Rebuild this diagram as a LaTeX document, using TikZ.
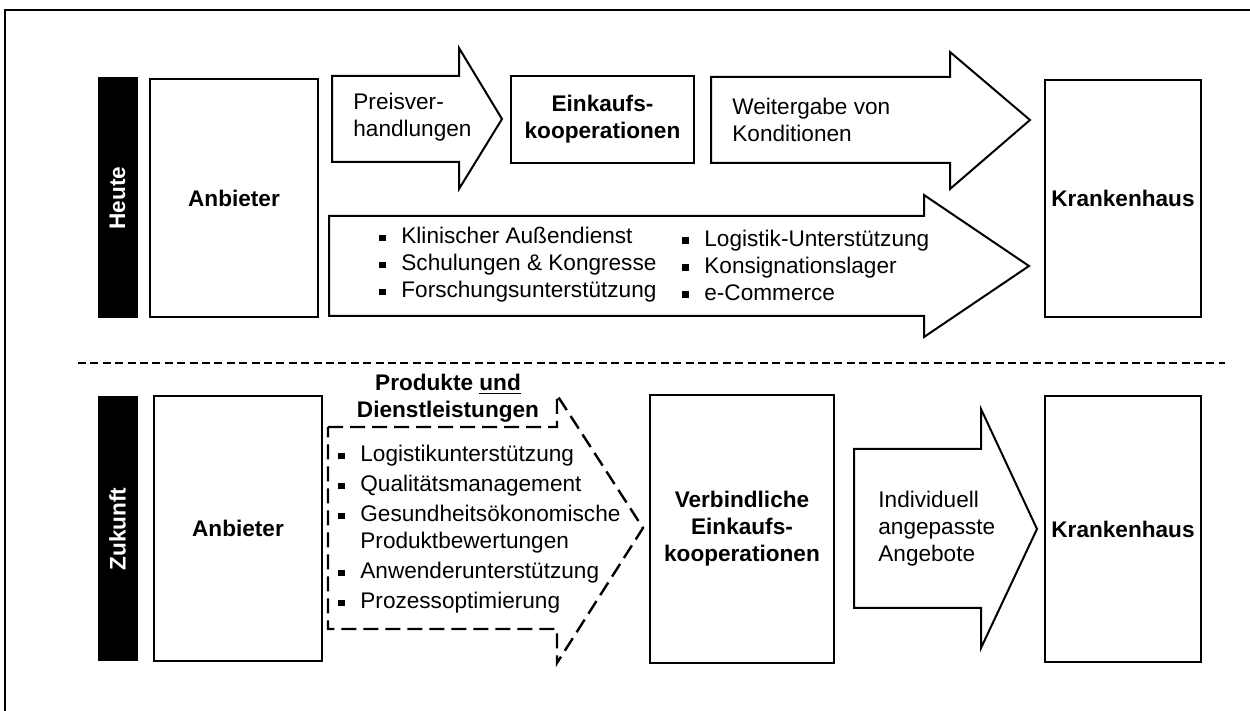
\documentclass[tikz,border=0pt]{standalone}
\usepackage{fontspec}
\setmainfont{Liberation Sans}
\newcommand\bulsq{\raisebox{0.11em}{\rule{0.3em}{0.3em}}}
\newcommand\bitem[1]{\makebox[11pt][l]{\bulsq}#1}
\newcommand\bindent{\hspace*{11pt}}
\begin{document}
\begin{tikzpicture}[x=0.5pt,y=-0.5pt,
  txt/.style={font=\fontsize{11.3pt}{13.5pt}\selectfont, inner sep=0pt, align=left},
  btxt/.style={font=\fontsize{11.3pt}{13.5pt}\selectfont\bfseries, inner sep=0pt, align=center},
  box/.style={draw, line width=1.35pt, fill=white, inner sep=0pt, font=\fontsize{11.3pt}{13.5pt}\selectfont\bfseries, align=center},
  bar/.style={draw=black, fill=black, line width=0.5pt, inner sep=0pt, minimum width=19.5pt},
  barlabel/.style={rotate=90, text=white, font=\fontsize{11.3pt}{13.5pt}\selectfont\bfseries, inner sep=0pt},
  blockarrow/.style={draw, line width=1pt, line join=miter, fill=white},
  dasharrow/.style={draw, line width=1.2pt, dash pattern=on 7.5pt off 3.5pt, line join=miter},
  frame/.style={line width=1pt},
  sep/.style={line width=0.65pt, dash pattern=on 4pt off 2.2pt}
]
\useasboundingbox (0,0) rectangle (1250,711);
% outer frame
\coordinate (fbl) at (5,711);
\coordinate (ftl) at (5,10);
\coordinate (ftr) at (1250,10);
\draw[frame] (fbl) -- (ftl) -- (ftr);

% ===== Heute =====
\node[bar, minimum height=120pt] (bar1) at (117.5,198) {};
\node[barlabel] (lab1) at (bar1.center) {Heute};
\node[box, minimum width=84pt, minimum height=119pt] (anb1) at (234,198) {Anbieter};
\node[box, minimum width=91.5pt, minimum height=43.5pt] (ek1) at (602.5,119.5) {Einkaufs-\\kooperationen};
\node[box, minimum width=78pt, minimum height=118.5pt] (kh1) at (1123,198.5) {Krankenhaus};

% arrow Preisverhandlungen
\draw[blockarrow] (332,76) -- (459,76) -- (459,48) -- (502,119) -- (459,189) -- (459,162) -- (332,162) -- cycle;
\node[txt, anchor=west] (pv) at (353,117) {Preisver-\\handlungen};

% arrow Weitergabe
\draw[blockarrow] (711,77) -- (950,77) -- (950,52) -- (1030,120) -- (950,189) -- (950,163) -- (711,163) -- cycle;
\node[txt, anchor=west] (wg) at (732,119.5) {Weitergabe von\\Konditionen};

% big arrow
\draw[blockarrow] (329,216) -- (924,216) -- (924,195) -- (1029,266) -- (924,337) -- (924,316) -- (329,316) -- cycle;
\node[txt, anchor=west] (l1) at (379,265) {\bitem{Klinischer Außendienst}\\\bitem{Schulungen \& Kongresse}\\\bitem{Forschungsunterstützung}};
\node[txt, anchor=west] (l2) at (682,265) {\bitem{Logistik-Unterstützung}\\\bitem{Konsignationslager}\\\bitem{e-Commerce}};

% separator
\coordinate (sl) at (78,363);
\coordinate (sr) at (1225,363);
\draw[sep] (sl) -- (sr);

% ===== Zukunft =====
\node[bar, minimum height=132pt] (bar2) at (117.5,529) {};
\node[barlabel] (lab2) at (bar2.center) {Zukunft};
\node[box, minimum width=84pt, minimum height=132.5pt] (anb2) at (238,528.5) {Anbieter};
\node[box, minimum width=92pt, minimum height=134pt] (vek2) at (742,529) {Verbindliche\\Einkaufs-\\kooperationen};
\node[box, minimum width=78pt, minimum height=133pt] (kh2) at (1123,529) {Krankenhaus};

% dashed arrow
\draw[dasharrow] (328,427) -- (557,427) -- (557,395) -- (643,528) -- (557,663) -- (557,629) -- (328,629) -- cycle;
\node[btxt] (pd) at (448,398.5) {Produkte \underline{und}\\Dienstleistungen};
\node[txt, anchor=west] (l3) at (338,529.5) {\bitem{Logistikunterstützung}\\[1.5pt]\bitem{Qualitätsmanagement}\\[1.5pt]\bitem{Gesundheitsökonomische}\\\bindent Produktbewertungen\\[1.5pt]\bitem{Anwenderunterstützung}\\[1.5pt]\bitem{Prozessoptimierung}};

% arrow Individuell
\draw[blockarrow] (854,449) -- (981,449) -- (981,409) -- (1037,529) -- (981,648) -- (981,608) -- (854,608) -- cycle;
\node[txt, anchor=west] (ia) at (878,529) {Individuell\\angepasste\\Angebote};
\end{tikzpicture}
\end{document}
